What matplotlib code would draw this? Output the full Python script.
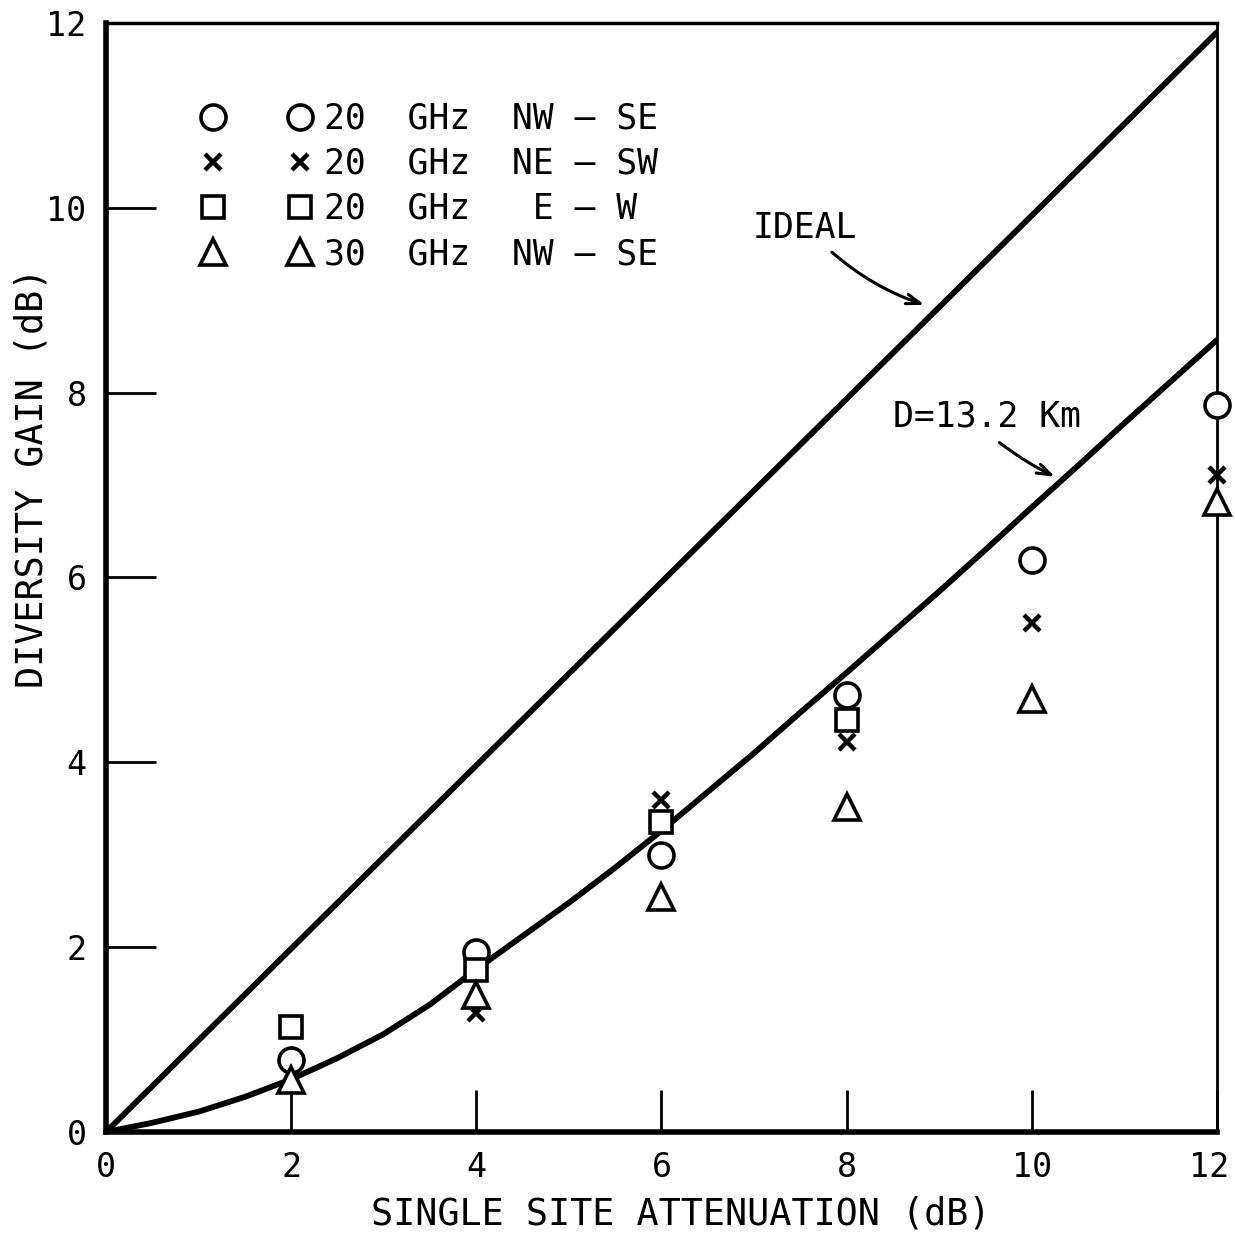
import numpy as np
import matplotlib.pyplot as plt
from matplotlib.transforms import ScaledTranslation

plt.rcParams['font.family'] = ['DejaVu Sans Mono', 'DejaVu Sans']

# single site attenuation (dB) vs diversity gain (dB)
ideal_x = [0, 12]
ideal_y = [0, 11.9]

curve_x = [0, 0.5, 1.0, 1.5, 2.0, 2.5, 3.0, 3.5, 4.0, 4.5, 5.0, 5.5, 6.0, 6.5,
           7.0, 7.5, 8.0, 8.5, 9.0, 9.5, 10.0, 10.5, 11.0, 11.5, 12.0]
curve_y = [0, 0.1, 0.22, 0.38, 0.57, 0.8, 1.06, 1.38, 1.76, 2.12, 2.48, 2.86, 3.26, 3.68,
           4.1, 4.54, 4.97, 5.41, 5.85, 6.3, 6.76, 7.21, 7.67, 8.12, 8.57]

circ_x = [2, 4, 6, 8, 10, 12]
circ_y = [0.78, 1.95, 3.0, 4.73, 6.19, 7.87]     # 20 GHz NW-SE
cross_x = [4, 6, 8, 10, 12]
cross_y = [1.29, 3.59, 4.22, 5.51, 7.11]         # 20 GHz NE-SW
sq_x = [2, 4, 6, 8]
sq_y = [1.14, 1.75, 3.35, 4.46]                  # 20 GHz E-W
tri_x = [2, 4, 6, 8, 10, 12]
tri_y = [0.56, 1.48, 2.54, 3.52, 4.68, 6.82]     # 30 GHz NW-SE

labels = ["20  GHz  NW — SE", "20  GHz  NE — SW", "20  GHz   E — W", "30  GHz  NW — SE"]
ticks = [0, 2, 4, 6, 8, 10, 12]

fig = plt.figure(figsize=(12.35, 12.35), dpi=100)
ax = fig.add_axes([0.0858, 0.0834, 0.8996, 0.898])

ax.plot(ideal_x, ideal_y, color='black', lw=4.2, solid_capstyle='round', zorder=2)
ax.plot(curve_x, curve_y, color='black', lw=4.2, solid_capstyle='round',
        solid_joinstyle='round', zorder=2)

mk = dict(linestyle='none', color='black', markerfacecolor='white', clip_on=False, zorder=4)
h1, = ax.plot(circ_x, circ_y, marker='o', markersize=18, markeredgewidth=2.6, **mk)
h2, = ax.plot(cross_x, cross_y, marker='x', markersize=12, markeredgewidth=3.2, **mk)
h3, = ax.plot(sq_x, sq_y, marker='s', markersize=16, markeredgewidth=2.6, **mk)
h4, = ax.plot(tri_x, tri_y, marker='^', markersize=19, markeredgewidth=2.6, **mk)

ax.set_xlim(0, 12)
ax.set_ylim(0, 12)
ax.set_xticks(ticks)
ax.set_yticks(ticks)
ax.tick_params(axis='x', direction='in', length=30, width=2, labelsize=24, pad=14)
ax.tick_params(axis='y', direction='in', length=36, width=2, labelsize=24, pad=14)

# pull the last x label back inside the page
last = ax.get_xticklabels()[-1]
last.set_transform(last.get_transform() + ScaledTranslation(-8 / 100, 0, fig.dpi_scale_trans))

for side, w in [('left', 4), ('bottom', 4), ('top', 2.5), ('right', 2)]:
    ax.spines[side].set_linewidth(w)

ax.set_xlabel("SINGLE SITE ATTENUATION (dB)", fontsize=26.5)
ax.set_ylabel("DIVERSITY GAIN (dB)", fontsize=26.5)
ax.xaxis.set_label_coords(0.517, -0.057)
ax.yaxis.set_label_coords(-0.050, 0.59)

leg = ax.legend([h1, h2, h3, h4], labels, numpoints=2, frameon=False, fontsize=25,
                loc='upper left', bbox_to_anchor=(0.0873, 0.929), borderaxespad=0,
                borderpad=0, handlelength=3.1, handletextpad=0.4, labelspacing=0.32)

arrow = dict(arrowstyle='->,head_length=1.0,head_width=0.35', lw=2.2, color='black')
ax.text(6.98, 9.78, "IDEAL", fontsize=25, va='center', ha='left')
ax.annotate("", xy=(8.84, 8.95), xytext=(7.84, 9.52),
            arrowprops=dict(connectionstyle='arc3,rad=0.1', shrinkA=0, shrinkB=0, **arrow))
ax.text(8.5, 7.74, "D=13.2 Km", fontsize=25, va='center', ha='left')
ax.annotate("", xy=(10.25, 7.09), xytext=(9.65, 7.46),
            arrowprops=dict(connectionstyle='arc3,rad=0.05', shrinkA=0, shrinkB=0, **arrow))

fig.savefig('out.png', dpi=100)
